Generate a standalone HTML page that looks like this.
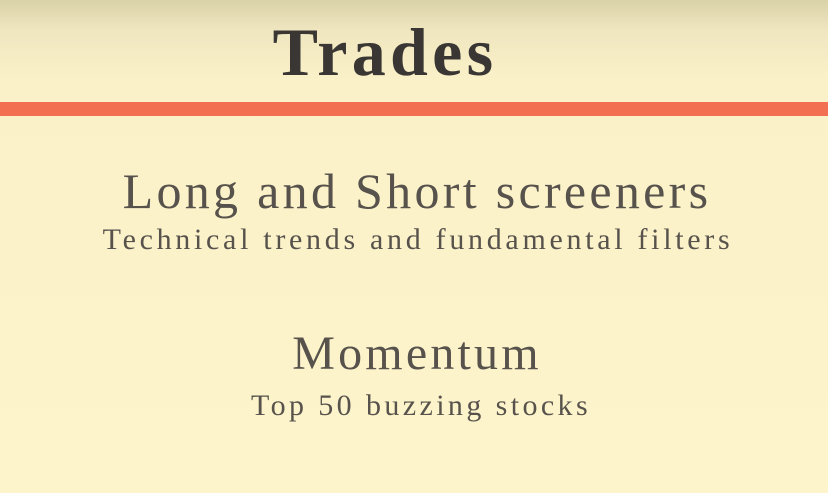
<!DOCTYPE html>
<html><head><meta charset="utf-8"><style>
html,body{margin:0;padding:0}
body{width:828px;height:493px;position:relative;overflow:hidden;
background:linear-gradient(to bottom,#d9d1a8 0px,#efe6bf 30px,#fbf1c9 80px,#fdf4cb 493px);
font-family:"Liberation Serif",serif;}
.t{position:absolute;white-space:nowrap;text-align:center;line-height:1;color:#57524c}
</style></head><body>
<div class="t" style="left:181px;width:400px;top:18px;font-size:68px;font-weight:bold;color:#3a3633;letter-spacing:4.3px;padding-left:4px">Trades</div>
<div style="position:absolute;left:0;top:102px;width:828px;height:14px;background:#f26f52"></div>
<div class="t" style="left:14px;width:800px;top:166px;font-size:50px;letter-spacing:3.3px;padding-left:3px">Long and Short screeners</div>
<div class="t" style="left:14px;width:800px;top:225px;font-size:30px;letter-spacing:3.7px;padding-left:4px">Technical trends and fundamental filters</div>
<div class="t" style="left:14px;width:800px;top:330px;font-size:48px;letter-spacing:3.2px;padding-left:3px">Momentum</div>
<div class="t" style="left:18px;width:800px;top:391px;font-size:30px;letter-spacing:3.4px;padding-left:3px">Top 50 buzzing stocks</div>
</body></html>
